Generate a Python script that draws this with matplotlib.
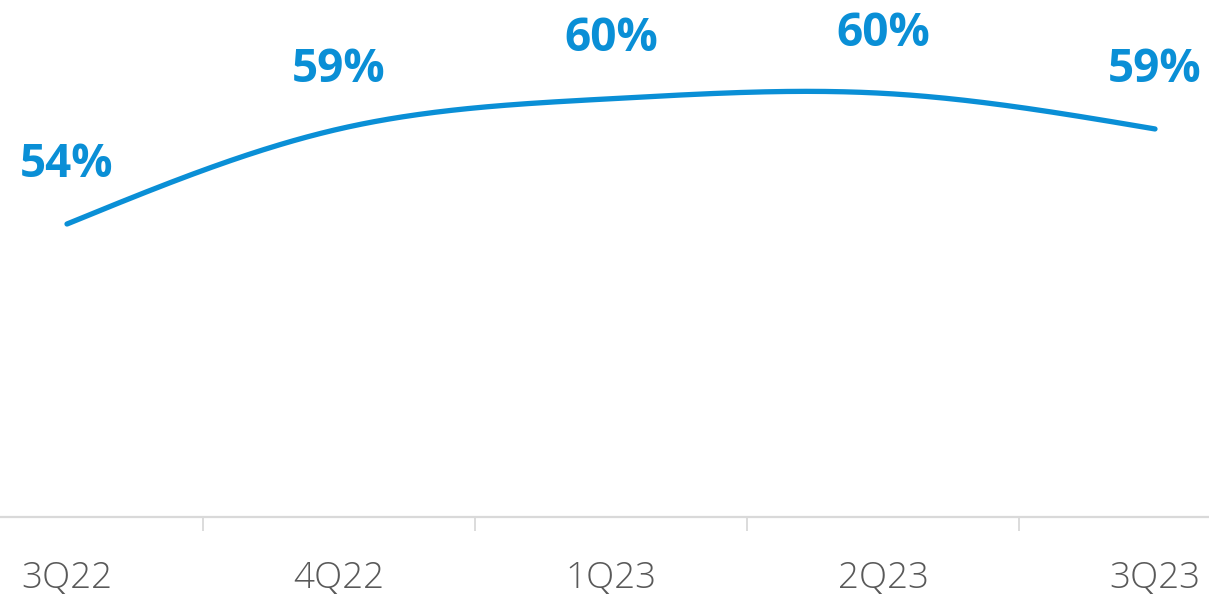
import numpy as np
import matplotlib
matplotlib.use("Agg")
import matplotlib.pyplot as plt

categories = ["3Q22", "4Q22", "1Q23", "2Q23", "3Q23"]
values = [54.2, 58.6, 60.0, 60.25, 58.6]
labels = ["54%", "59%", "60%", "60%", "59%"]

BLUE = "#0a8fd6"
GRAY = "#d9d9d9"
TEXT = "#595959"


def natural_spline(x, y, xs):
    x = np.asarray(x, float); y = np.asarray(y, float)
    n = len(x)
    h = np.diff(x)
    A = np.zeros((n, n)); r = np.zeros(n)
    A[0, 0] = A[-1, -1] = 1
    for i in range(1, n - 1):
        A[i, i - 1] = h[i - 1]; A[i, i] = 2 * (h[i - 1] + h[i]); A[i, i + 1] = h[i]
        r[i] = 3 * ((y[i + 1] - y[i]) / h[i] - (y[i] - y[i - 1]) / h[i - 1])
    c = np.linalg.solve(A, r)
    b = (y[1:] - y[:-1]) / h - h * (2 * c[:-1] + c[1:]) / 3
    d = (c[1:] - c[:-1]) / (3 * h)
    idx = np.clip(np.searchsorted(x, xs) - 1, 0, n - 2)
    dx = xs - x[idx]
    return y[idx] + b[idx] * dx + c[idx] * dx ** 2 + d[idx] * dx ** 3


fig = plt.figure(figsize=(12.09, 5.96), dpi=100)
ax = fig.add_axes([0, (596 - 517) / 596, 1, 517 / 596])

xi = np.arange(len(categories))
xs = np.linspace(0, len(categories) - 1, 400)
ax.plot(xs, natural_spline(xi, values, xs), color=BLUE, lw=3.8, solid_capstyle="round")

for x, v, t in zip(xi, values, labels):
    ax.annotate(t, (x, v), xytext=(0, 43), textcoords="offset points",
                ha="center", va="center", color=BLUE, fontsize=33,
                fontweight="bold", family="Open Sans")

ax.set_xlim(-67 / 272, (1209 - 67) / 272)
ax.set_ylim(54.2 - 293 / 21.6, 54.2 + 224 / 21.6)

for s in ["top", "left", "right"]:
    ax.spines[s].set_visible(False)
ax.spines["bottom"].set_color(GRAY)
ax.spines["bottom"].set_linewidth(1.6)
ax.set_yticks([])
ax.set_xticks(xi)
ax.set_xticklabels(categories)
ax.set_xticks(xi[:-1] + 0.5, minor=True)
ax.tick_params(axis="x", which="major", length=0, pad=31, labelsize=26.5,
               labelcolor=TEXT)
ax.tick_params(axis="x", which="minor", length=10, width=1.3, color=GRAY)
for lab in ax.get_xticklabels():
    lab.set_family("Open Sans")
    lab.set_fontweight("light")

fig.savefig("out.png", dpi=100)
